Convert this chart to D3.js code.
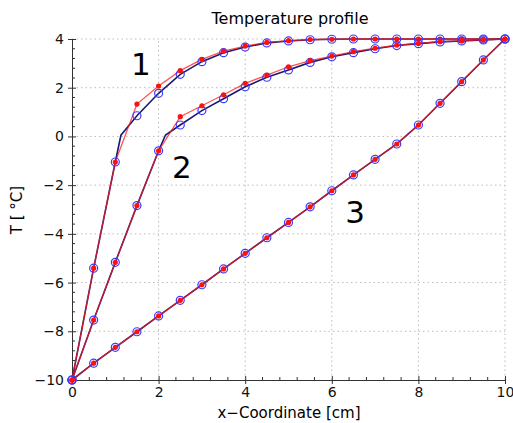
<!DOCTYPE html>
<html>
<head>
<meta charset="utf-8">
<script src="https://cdn.jsdelivr.net/npm/d3@7"></script>
<style>
  body { margin: 0; background: #fff; }
  text { font-family: "DejaVu Sans", sans-serif; }
</style>
</head>
<body>
<script>
// ===============================
// DATA
// ===============================
const xs = [0, 0.5, 1, 1.5, 2, 2.5, 3, 3.5, 4, 4.5, 5, 5.5, 6, 6.5, 7, 7.5, 8, 8.5, 9, 9.5, 10];

// curve 1
const red1  = [-10, -5.41, -1.05, 1.33, 2.07, 2.70, 3.16, 3.50, 3.71, 3.86, 3.93, 3.98, 3.99, 4, 4, 4, 4, 4, 4, 4, 4];
const blue1 = [-10, -5.41, -1.05, 0.85, 1.77, 2.55, 3.07, 3.44, 3.67, 3.84, 3.92, 3.97, 3.99, 4, 4, 4, 4, 4, 4, 4, 4];
// curve 2
const red2  = [-10, -7.54, -5.17, -2.84, -0.59, 0.81, 1.26, 1.71, 2.18, 2.52, 2.86, 3.11, 3.30, 3.48, 3.62, 3.75, 3.82, 3.89, 3.93, 3.96, 4];
const blue2 = [-10, -7.54, -5.17, -2.84, -0.59, 0.47, 1.06, 1.55, 2.04, 2.43, 2.73, 3.04, 3.27, 3.44, 3.60, 3.73, 3.81, 3.88, 3.92, 3.96, 4];
// curve 3
const red3  = [-10, -9.31, -8.66, -8.02, -7.37, -6.73, -6.09, -5.44, -4.80, -4.16, -3.53, -2.89, -2.23, -1.58, -0.94, -0.31, 0.47, 1.36, 2.25, 3.14, 4];
const blue3 = red3.slice();

// extra vertex of the solid (navy) line where it crosses 0 °C
const kinks = [[1.13, 0.05], [2.16, 0.06], [7.7, 0.0]];

const xTicks = [0, 2, 4, 6, 8, 10];
const yTicks = [-10, -8, -6, -4, -2, 0, 2, 4];
const curveLabels = [
  { text: "1", x: 1.59, y: 2.52 },
  { text: "2", x: 2.54, y: -1.72 },
  { text: "3", x: 6.54, y: -3.54 }
];

// ===============================
// SVG
// ===============================
const width = 513, height = 423;
const margin = { top: 39, right: 8, bottom: 43, left: 72 };

const svg = d3.select("body").append("svg")
  .attr("width", width)
  .attr("height", height);

const x = d3.scaleLinear().domain([0, 10]).range([margin.left, width - margin.right]);
const y = d3.scaleLinear().domain([-10, 4]).range([height - margin.bottom, margin.top]);

// grid
const grid = svg.append("g")
  .attr("stroke", "#bbb")
  .attr("stroke-width", 1)
  .attr("stroke-dasharray", "1.5,3");

grid.selectAll(".gx").data(xTicks.filter(d => d > 0)).join("line")
  .attr("x1", d => x(d)).attr("x2", d => x(d))
  .attr("y1", y(-10)).attr("y2", y(4));

grid.selectAll(".gy").data(yTicks.filter(d => d > -10)).join("line")
  .attr("x1", x(0)).attr("x2", x(10))
  .attr("y1", d => y(d)).attr("y2", d => y(d));

// axes
const minorX = d3.range(0, 10.001, 0.4).filter(v => Math.abs(v / 2 - Math.round(v / 2)) > 1e-6);
const minorY = d3.range(-10, 4.001, 0.4).filter(v => Math.abs(v / 2 - Math.round(v / 2)) > 1e-6);

const xAxis = svg.append("g")
  .attr("transform", `translate(0,${y(-10)})`)
  .call(d3.axisBottom(x).tickValues(xTicks).tickSizeInner(4).tickSizeOuter(0).tickPadding(3))
  .call(g => g.select(".domain").attr("stroke", "#333"))
  .call(g => g.selectAll(".tick line").attr("y1", -4).attr("stroke", "#333"))
  .call(g => g.selectAll("text").attr("font-size", 14).attr("fill", "#111")
    .attr("font-family", "DejaVu Sans, sans-serif"));

xAxis.selectAll(".minor").data(minorX).join("line")
  .attr("x1", d => x(d)).attr("x2", d => x(d))
  .attr("y1", 0).attr("y2", -3)
  .attr("stroke", "#333");

const yAxis = svg.append("g")
  .attr("transform", `translate(${x(0)},0)`)
  .call(d3.axisLeft(y).tickValues(yTicks).tickSizeInner(4).tickSizeOuter(0).tickPadding(4)
    .tickFormat(d => d < 0 ? "\u2212" + Math.abs(d) : d))
  .call(g => g.select(".domain").attr("stroke", "#333"))
  .call(g => g.selectAll(".tick line").attr("x1", 4).attr("stroke", "#333"))
  .call(g => g.selectAll("text").attr("font-size", 14).attr("fill", "#111")
    .attr("font-family", "DejaVu Sans, sans-serif"));

yAxis.selectAll(".minor").data(minorY).join("line")
  .attr("y1", d => y(d)).attr("y2", d => y(d))
  .attr("x1", 0).attr("x2", 3)
  .attr("stroke", "#333");

// ===============================
// CURVES
// ===============================
const line = d3.line().x(d => x(d[0])).y(d => y(d[1]));

function withKink(vals, k) {
  const pts = xs.map((v, i) => [v, vals[i]]);
  pts.push(k);
  return pts.sort((a, b) => a[0] - b[0]);
}

const curves = [
  { red: red1, blue: blue1, kink: kinks[0] },
  { red: red2, blue: blue2, kink: kinks[1] },
  { red: red3, blue: blue3, kink: kinks[2] }
];

const plot = svg.append("g");

curves.forEach(c => {
  plot.append("path")
    .datum(withKink(c.blue, c.kink))
    .attr("d", line)
    .attr("fill", "none")
    .attr("stroke", "#1a1a70")
    .attr("stroke-width", 1.6);

  plot.append("path")
    .datum(xs.map((v, i) => [v, c.red[i]]))
    .attr("d", line)
    .attr("fill", "none")
    .attr("stroke", "#ff1a1a")
    .attr("stroke-opacity", 0.75)
    .attr("stroke-width", 1.3);
});

curves.forEach(c => {
  plot.selectAll(null).data(xs.map((v, i) => [v, c.blue[i]])).join("circle")
    .attr("cx", d => x(d[0])).attr("cy", d => y(d[1]))
    .attr("r", 4)
    .attr("fill", "none")
    .attr("stroke", "#3a3aff")
    .attr("stroke-width", 1.2);

  plot.selectAll(null).data(xs.map((v, i) => [v, c.red[i]])).join("circle")
    .attr("cx", d => x(d[0])).attr("cy", d => y(d[1]))
    .attr("r", 2.6)
    .attr("fill", "#ff1010");
});

// curve numbers
svg.selectAll(".num").data(curveLabels).join("text")
  .attr("x", d => x(d.x)).attr("y", d => y(d.y))
  .attr("text-anchor", "middle")
  .attr("font-size", 31)
  .attr("fill", "#000")
  .text(d => d.text);

// titles
svg.append("text")
  .attr("x", 290).attr("y", 24)
  .attr("text-anchor", "middle")
  .attr("font-size", 16)
  .attr("font-family", "Liberation Sans, Arial, sans-serif")
  .text("Temperature profile");

svg.append("text")
  .attr("x", 289).attr("y", 418)
  .attr("text-anchor", "middle")
  .attr("font-size", 15)
  .attr("font-family", "Liberation Sans, Arial, sans-serif")
  .text("x\u2212Coordinate [cm]");

svg.append("text")
  .attr("transform", "translate(22,210) rotate(-90)")
  .attr("text-anchor", "middle")
  .attr("font-size", 15)
  .attr("font-family", "Liberation Sans, Arial, sans-serif")
  .text("T [ \u00b0C]");
</script>
</body>
</html>
